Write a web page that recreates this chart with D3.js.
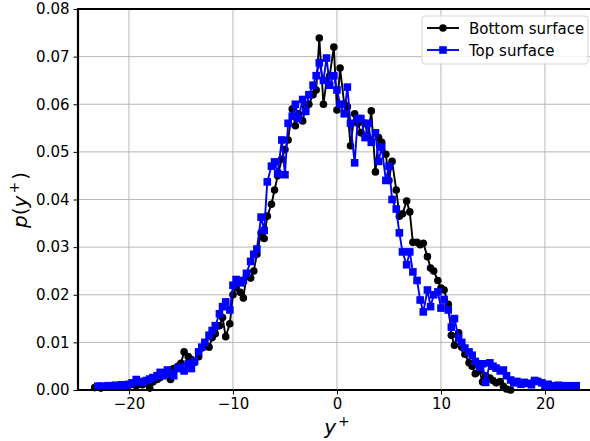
<!DOCTYPE html>
<html>
<head>
<meta charset="utf-8">
<script src="https://d3js.org/d3.v7.min.js"></script>
<style>
  body { margin: 0; background: #fff; }
  svg { display: block; font-family: "DejaVu Sans", sans-serif; }
</style>
</head>
<body>
<svg id="chart" width="590" height="441"></svg>
<script>
// y+ bins shared by both surfaces
const yPlus = [
  -23.3,-23.0,-22.7,-22.3,-22.0,-21.7,-21.3,-21.0,-20.7,-20.3,
  -20.0,-19.7,-19.3,-19.0,-18.7,-18.3,-18.0,-17.7,-17.3,-17.0,
  -16.7,-16.3,-16.0,-15.7,-15.3,-15.0,-14.7,-14.3,-14.0,-13.7,
  -13.3,-13.0,-12.7,-12.3,-12.0,-11.7,-11.3,-11.0,-10.7,-10.3,
  -10.0,-9.7,-9.3,-9.0,-8.7,-8.3,-8.0,-7.7,-7.3,-7.0,
  -6.7,-6.3,-6.0,-5.7,-5.3,-5.0,-4.7,-4.3,-4.0,-3.7,
  -3.3,-3.0,-2.7,-2.3,-2.0,-1.7,-1.3,-1.0,-0.7,-0.3,
  0.0,0.3,0.7,1.0,1.3,1.7,2.0,2.3,2.7,3.0,
  3.3,3.7,4.0,4.3,4.7,5.0,5.3,5.7,6.0,6.3,
  6.7,7.0,7.3,7.7,8.0,8.3,8.7,9.0,9.3,9.7,
  10.0,10.3,10.7,11.0,11.3,11.7,12.0,12.3,12.7,13.0,
  13.3,13.7,14.0,14.3,14.7,15.0,15.3,15.7,16.0,16.3,
  16.7,17.0,17.3,17.7,18.0,18.3,18.7,19.0,19.3,19.7,
  20.0,20.3,20.7,21.0,21.3,21.7,22.0,22.3,22.7,23.0
]

const bottomSurface = [
  0.0005,0.0006,0.0004,0.0007,0.0006,0.0008,0.0006,0.0009,0.0008,0.0011,
  0.0010,0.0012,0.0009,0.0013,0.0011,0.0014,0.0004,0.0017,0.0022,0.0026,
  0.0033,0.0040,0.0022,0.0045,0.0050,0.0056,0.0080,0.0070,0.0064,0.0058,
  0.0070,0.0088,0.0095,0.0090,0.0110,0.0118,0.0135,0.0152,0.0112,0.0139,
  0.0200,0.0215,0.0205,0.0193,0.0240,0.0235,0.0250,0.0285,0.0330,0.0318,
  0.0365,0.0390,0.0420,0.0450,0.0485,0.0505,0.0525,0.0590,0.0555,0.0580,
  0.0565,0.0595,0.0600,0.0620,0.0630,0.0739,0.0600,0.0650,0.0660,0.0720,
  0.0588,0.0676,0.0600,0.0595,0.0513,0.0580,0.0560,0.0540,0.0560,0.0530,
  0.0586,0.0458,0.0530,0.0520,0.0495,0.0440,0.0480,0.0420,0.0365,0.0370,
  0.0397,0.0374,0.0310,0.0310,0.0305,0.0308,0.0280,0.0256,0.0250,0.0230,
  0.0214,0.0210,0.0180,0.0115,0.0094,0.0120,0.0090,0.0075,0.0057,0.0050,
  0.0034,0.0040,0.0017,0.0030,0.0025,0.0020,0.0015,0.0018,0.0008,0.0002,
  0.0000
]

const topSurface = [
  null,0.0008,0.0008,0.0007,0.0009,0.0008,0.0010,0.0009,0.0011,0.0010,
  0.0012,0.0015,0.0022,0.0018,0.0016,0.0020,0.0023,0.0026,0.0030,0.0037,
  0.0030,0.0042,0.0035,0.0030,0.0045,0.0048,0.0040,0.0055,0.0045,0.0060,
  0.0080,0.0090,0.0100,0.0115,0.0125,0.0135,0.0160,0.0175,0.0185,0.0168,
  0.0220,0.0232,0.0225,0.0230,0.0245,0.0270,0.0285,0.0296,0.0363,0.0335,
  0.0437,0.0470,0.0479,0.0455,0.0525,0.0452,0.0560,0.0575,0.0600,0.0570,
  0.0610,0.0585,0.0620,0.0640,0.0660,0.0687,0.0650,0.0697,0.0640,0.0660,
  0.0630,0.0600,0.0580,0.0636,0.0560,0.0477,0.0570,0.0570,0.0530,0.0560,
  0.0520,0.0540,0.0480,0.0510,0.0440,0.0470,0.0400,0.0380,0.0330,0.0290,
  0.0263,0.0290,0.0248,0.0230,0.0189,0.0164,0.0210,0.0175,0.0200,0.0206,
  0.0172,0.0190,0.0168,0.0132,0.0150,0.0109,0.0100,0.0088,0.0080,0.0073,
  0.0060,0.0048,0.0055,0.0016,0.0057,0.0050,0.0046,0.0040,0.0042,0.0030,
  0.0021,0.0015,0.0018,0.0012,0.0016,0.0014,0.0011,0.0020,0.0018,0.0015,
  0.0010,0.0012,0.0009,0.0008,0.0010,0.0009,0.0007,0.0009,0.0008,0.0009
]

const xTicks = [-20, -10, 0, 10, 20]
const yTicks = [0, 0.01, 0.02, 0.03, 0.04, 0.05, 0.06, 0.07, 0.08]
const seriesNames = ["Bottom surface", "Top surface"]

const svg = d3.select("#chart")
const padL = 78, padR = 590, padT = 9, padB = 390

const x = d3.scaleLinear().domain([-24.9, 24.33]).range([padL, padR])
const y = d3.scaleLinear().domain([0, 0.08]).range([padB, padT])

// grid
svg.append("g").selectAll("line").data(xTicks).join("line")
  .attr("x1", d => x(d)).attr("x2", d => x(d))
  .attr("y1", padT).attr("y2", padB)
  .attr("stroke", "#b0b0b0").attr("stroke-width", 0.9)
svg.append("g").selectAll("line").data(yTicks).join("line")
  .attr("x1", padL).attr("x2", padR)
  .attr("y1", d => y(d)).attr("y2", d => y(d))
  .attr("stroke", "#b0b0b0").attr("stroke-width", 0.9)

const toPoints = vals => vals.map((v, i) => ({x: yPlus[i], y: v})).filter(d => d.y != null)

const series = [
  {name: seriesNames[0], color: "#000000", shape: "circle", pts: toPoints(bottomSurface)},
  {name: seriesNames[1], color: "#0000ff", shape: "square", pts: toPoints(topSurface)}
]

const line = d3.line().x(d => x(d.x)).y(d => y(d.y))
const plot = svg.append("g")

series.forEach(s => {
  plot.append("path").datum(s.pts)
    .attr("d", line)
    .attr("fill", "none")
    .attr("stroke", s.color)
    .attr("stroke-width", 1.9)
    .attr("stroke-linejoin", "round")
  if (s.shape === "circle") {
    plot.append("g").selectAll("circle").data(s.pts).join("circle")
      .attr("cx", d => x(d.x)).attr("cy", d => y(d.y))
      .attr("r", 3.8).attr("fill", s.color)
  } else {
    plot.append("g").selectAll("rect").data(s.pts).join("rect")
      .attr("x", d => x(d.x) - 3.8).attr("y", d => y(d.y) - 3.8)
      .attr("width", 7.6).attr("height", 7.6).attr("fill", s.color)
  }
})

// axes
const fmtX = d => d < 0 ? "\u2212" + Math.abs(d) : String(d)
const xAxis = svg.append("g").attr("transform", `translate(0,${padB})`)
  .call(d3.axisBottom(x).tickValues(xTicks).tickFormat(fmtX).tickSizeOuter(0).tickSize(4.5).tickPadding(4))
const yAxis = svg.append("g").attr("transform", `translate(${padL},0)`)
  .call(d3.axisLeft(y).tickValues(yTicks).tickFormat(d3.format(".2f")).tickSizeOuter(0).tickSize(4.5).tickPadding(4))

;[xAxis, yAxis].forEach(a => {
  a.select(".domain").remove()
  a.selectAll(".tick line").attr("stroke", "#000").attr("stroke-width", 1)
  a.selectAll(".tick text").attr("fill", "#000").attr("font-size", 15)
    .attr("font-family", "DejaVu Sans")
})

// spines
svg.append("line").attr("x1", padL).attr("x2", padR).attr("y1", padB).attr("y2", padB)
  .attr("stroke", "#000").attr("stroke-width", 2.2)
svg.append("line").attr("x1", padL).attr("x2", padR).attr("y1", padT).attr("y2", padT)
  .attr("stroke", "#000").attr("stroke-width", 2.2)
svg.append("line").attr("x1", padL).attr("x2", padL).attr("y1", padT - 1.1).attr("y2", padB + 1.1)
  .attr("stroke", "#000").attr("stroke-width", 2.2)

// axis labels
const xl = svg.append("text").attr("x", 337).attr("y", 434)
  .attr("text-anchor", "middle").attr("font-size", 20).attr("font-style", "italic")
xl.append("tspan").text("y")
xl.append("tspan").attr("dx", 2).attr("dy", -8).attr("font-size", 14).attr("font-style", "normal").text("+")

const yl = svg.append("text").attr("transform", "translate(27,200) rotate(-90)")
  .attr("text-anchor", "middle").attr("font-size", 20)
yl.append("tspan").attr("font-style", "italic").text("p")
yl.append("tspan").text("(")
yl.append("tspan").attr("font-style", "italic").text("y")
yl.append("tspan").attr("dx", 2).attr("dy", -8).attr("font-size", 14).text("+")
yl.append("tspan").attr("dx", 2).attr("dy", 8).text(")")

// legend
const lg = svg.append("g")
lg.append("rect").attr("x", 422).attr("y", 16).attr("width", 166).attr("height", 48)
  .attr("rx", 3).attr("fill", "#fff").attr("fill-opacity", 0.8)
  .attr("stroke", "#d6d6d6").attr("stroke-width", 1)
series.forEach((s, i) => {
  const cy = 28 + i * 22
  lg.append("line").attr("x1", 427).attr("x2", 459).attr("y1", cy).attr("y2", cy)
    .attr("stroke", s.color).attr("stroke-width", 1.9)
  if (s.shape === "circle") {
    lg.append("circle").attr("cx", 443).attr("cy", cy).attr("r", 3.8).attr("fill", s.color)
  } else {
    lg.append("rect").attr("x", 443 - 3.8).attr("y", cy - 3.8).attr("width", 7.6).attr("height", 7.6).attr("fill", s.color)
  }
  lg.append("text").attr("x", 469).attr("y", cy + 5.5).attr("font-size", 15).attr("fill", "#000").text(s.name)
})
</script>
</body>
</html>
